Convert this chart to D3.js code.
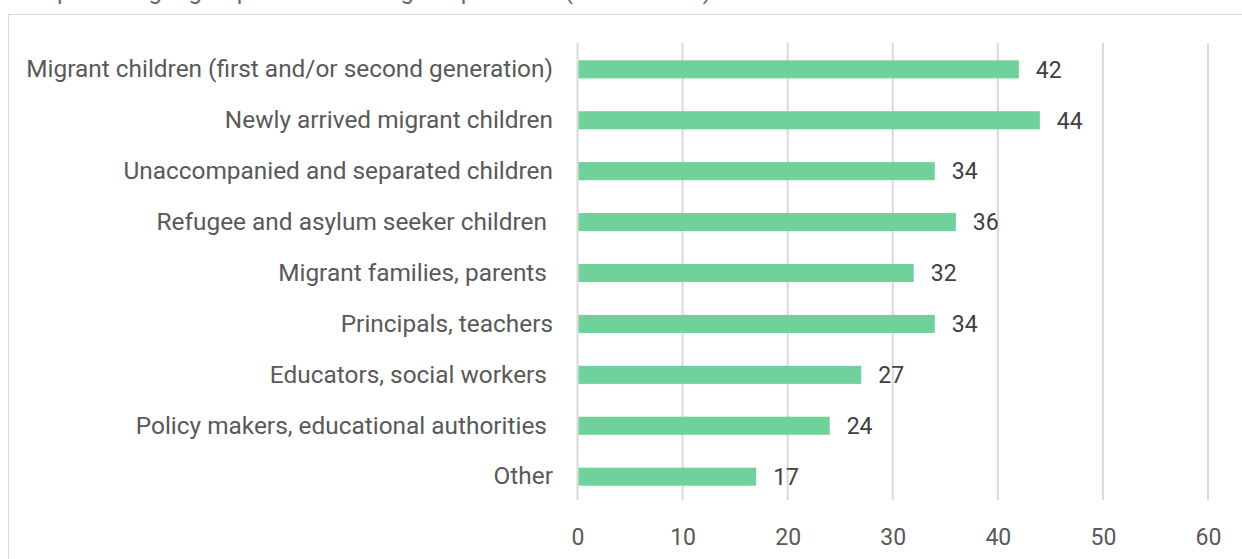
<!DOCTYPE html>
<html>
<head>
<meta charset="utf-8">
<script src="https://cdn.jsdelivr.net/npm/d3@7"></script>
<style>
  html, body { margin: 0; padding: 0; background: #fff; }
  svg { display: block; }
  text { font-family: Roboto, "Noto Sans", sans-serif; }
</style>
</head>
<body>
<svg id="chart" width="1242" height="559"></svg>
<script>
const categories = [
  "Migrant children (first and/or second generation)",
  "Newly arrived migrant children",
  "Unaccompanied and separated children",
  "Refugee and asylum seeker children ",
  "Migrant families, parents ",
  "Principals, teachers",
  "Educators, social workers ",
  "Policy makers, educational authorities ",
  "Other"
];
const values = [42, 44, 34, 36, 32, 34, 27, 24, 17];
const xTicks = [0, 10, 20, 30, 40, 50, 60];
const title = "Graph 1: Target groups of the listed good practices (in absolutes)";

const svg = d3.select("#chart");

// partially visible title at the very top
svg.append("text")
  .attr("x", 20).attr("y", -1)
  .attr("fill", "#6a6a6a")
  .attr("font-size", 24)
  .text(title);

// chart area border
svg.append("rect")
  .attr("x", 8.5).attr("y", 14.5)
  .attr("width", 1260).attr("height", 600)
  .attr("fill", "#fff")
  .attr("stroke", "#d9d9d9").attr("stroke-width", 1);

const x = d3.scaleLinear().domain([0, 60]).range([577.5, 1208]);
const y = d3.scaleBand().domain(categories).range([44, 502]).paddingInner(0.645).paddingOuter(0.32);

// gridlines
svg.append("g").selectAll("line").data(xTicks).join("line")
  .attr("x1", d => x(d)).attr("x2", d => x(d))
  .attr("y1", 43).attr("y2", 500)
  .attr("stroke", "#d9d9d9").attr("stroke-width", 2);

// x axis labels
const xAxis = d3.axisBottom(x).tickValues(xTicks).tickSize(0).tickPadding(0);
const gx = svg.append("g").attr("transform", "translate(0,529)").call(xAxis);
gx.select(".domain").remove();
gx.selectAll("text")
  .attr("font-size", 23).attr("fill", "#595959")
  .attr("font-family", "Roboto, sans-serif");

// bars
svg.append("g").selectAll("rect").data(values).join("rect")
  .attr("x", x(0) + 1)
  .attr("y", (d, i) => y(categories[i]))
  .attr("width", d => x(d) - x(0) - 1)
  .attr("height", y.bandwidth())
  .attr("fill", "#70d29b");

// value labels
svg.append("g").selectAll("text").data(values).join("text")
  .attr("x", d => x(d) + 17)
  .attr("y", (d, i) => y(categories[i]) + y.bandwidth() / 2)
  .attr("dy", "0.36em")
  .attr("font-size", 23)
  .attr("fill", "#404040")
  .text(d => d);

// category labels
const yAxis = d3.axisLeft(y).tickSize(0).tickPadding(0);
const gy = svg.append("g").attr("transform", "translate(553,0)").call(yAxis);
gy.select(".domain").remove();
gy.selectAll("text")
  .attr("font-size", 24.4).attr("fill", "#595959")
  .attr("font-family", "Roboto, sans-serif")
  .attr("xml:space", "preserve")
  .style("white-space", "pre");
</script>
</body>
</html>
